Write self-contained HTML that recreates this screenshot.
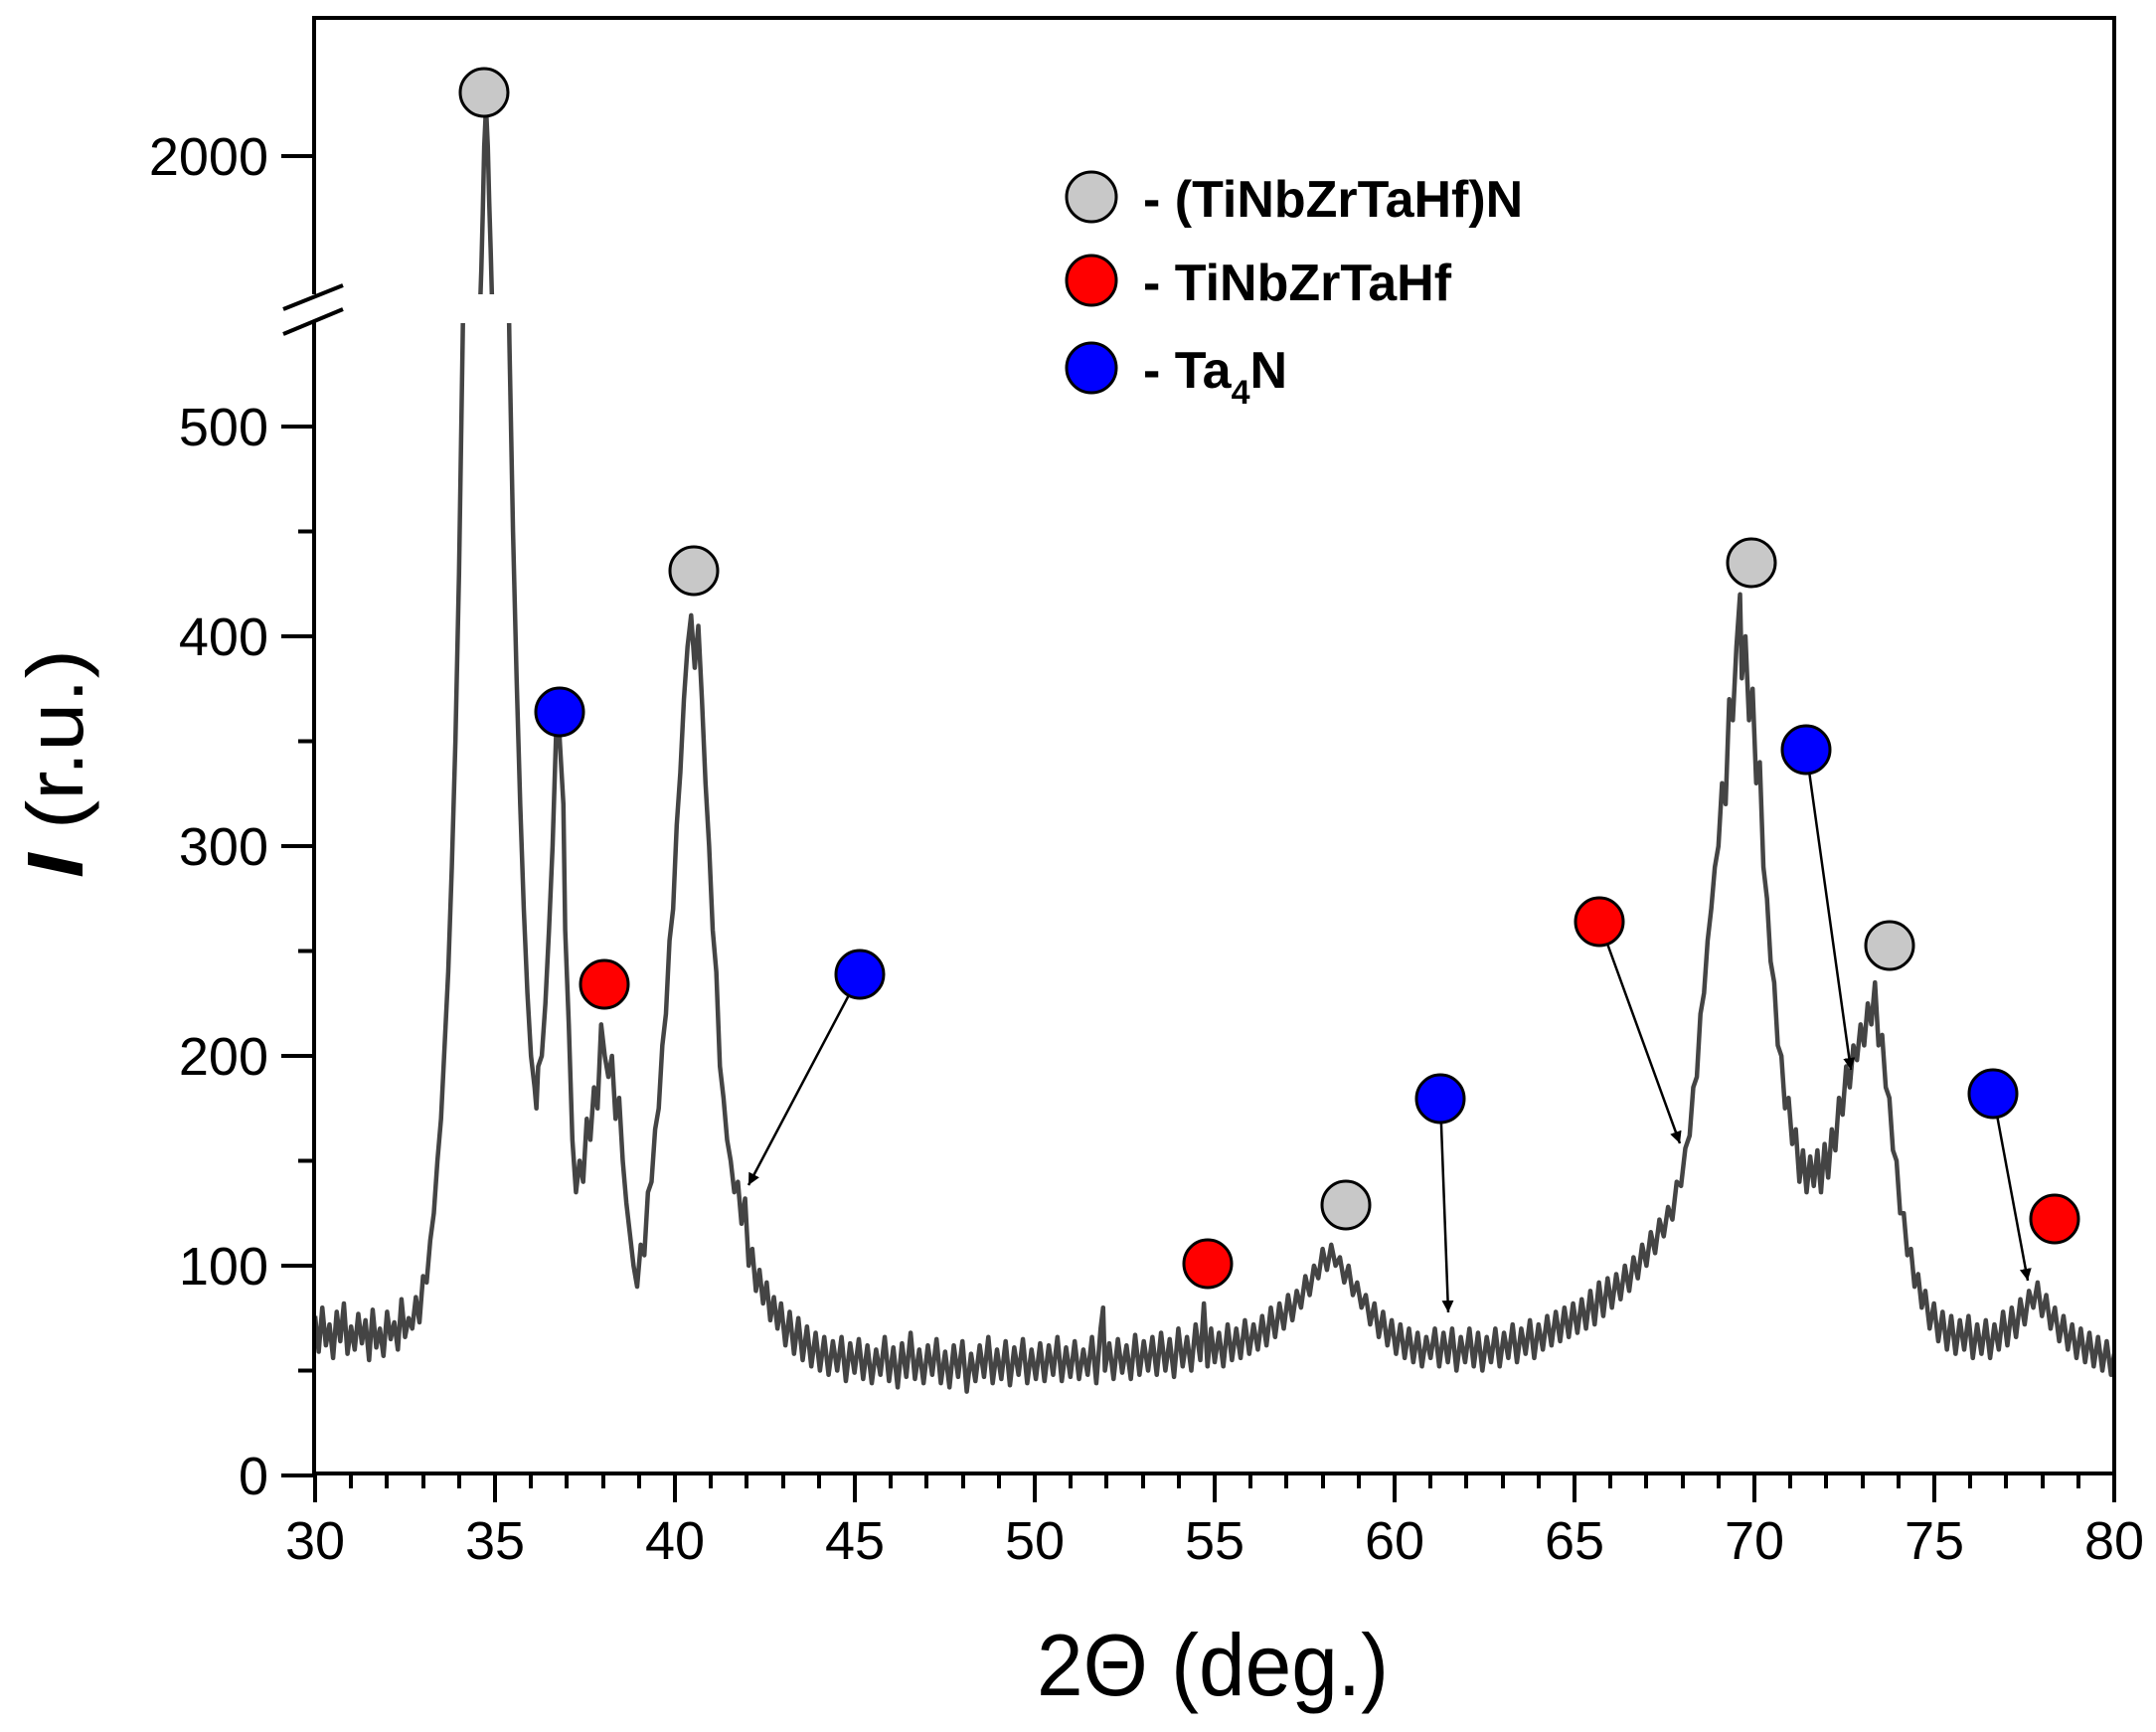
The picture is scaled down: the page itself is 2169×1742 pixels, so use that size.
<!DOCTYPE html>
<html><head><meta charset="utf-8"><style>html,body{margin:0;padding:0;background:#fff}svg{display:block}</style></head>
<body>
<svg width="2169" height="1742" viewBox="0 0 2169 1742" xmlns="http://www.w3.org/2000/svg" font-family="'Liberation Sans', Arial, sans-serif">
<defs>
<clipPath id="lo"><rect x="316" y="325" width="1811" height="1157"/></clipPath>
<clipPath id="hi"><rect x="316" y="20" width="1811" height="276"/></clipPath>
<marker id="ar" markerWidth="12" markerHeight="12" refX="10" refY="5" orient="auto" markerUnits="userSpaceOnUse" viewBox="0 0 10 10"><path d="M0,0 L10,5 L0,10 z" fill="#000"/></marker>
</defs>
<rect width="2169" height="1742" fill="#fff"/>
<g clip-path="url(#lo)">
<polyline transform="matrix(36.2,0,0,-2.11,-769,1484)" vector-effect="non-scaling-stroke" fill="none" stroke="#444" stroke-width="4.5" stroke-linejoin="round" points="
30,76 30.1,59 30.2,80 30.3,62 30.4,72 30.5,56 30.6,78 30.7,64 30.8,82 30.9,58 31,71 31.1,60 31.2,77 31.3,63 31.4,74 31.5,55 31.6,79 31.7,61 31.8,70 31.9,57 32,78 32.1,65 32.2,73 32.3,60 32.4,84 32.5,66 32.6,75 32.7,70 32.8,85 32.9,73 33,95 33.1,92 33.2,112 33.3,125 33.4,150 33.5,170 33.6,205 33.7,240 33.8,290 33.9,350 34,430 34.1,540 34.2,660 34.4,700 35.1,700 35.3,650 35.4,540 35.5,450 35.6,380 35.7,320 35.8,270 35.9,230 36,200 36.1,185 36.15,175 36.2,195 36.3,200 36.4,225 36.5,260 36.6,300 36.7,355 36.75,370 36.8,350 36.9,320 36.95,260 37.05,215 37.15,160 37.25,135 37.35,150 37.45,140 37.55,170 37.65,160 37.75,185 37.85,175 37.95,215 38.05,200 38.15,190 38.25,200 38.35,170 38.45,180 38.55,150 38.65,130 38.75,115 38.85,100 38.95,90 39.05,110 39.15,105 39.25,135 39.35,140 39.45,165 39.55,175 39.65,205 39.75,220 39.85,255 39.95,270 40.05,310 40.15,335 40.25,370 40.35,395 40.45,410 40.55,385 40.65,405 40.75,370 40.85,330 40.95,300 41.05,260 41.15,240 41.25,195 41.35,180 41.45,160 41.55,150 41.65,135 41.75,140 41.85,120 41.95,132 42.05,100 42.15,108 42.25,88 42.35,98 42.45,82 42.55,92 42.65,74 42.75,85 42.85,70 42.95,82 43.07,62 43.19,78 43.31,58 43.43,75 43.55,55 43.67,71 43.79,52 43.91,68 44.03,50 44.15,66 44.27,48 44.39,64 44.51,50 44.63,66 44.75,45 44.87,63 44.99,49 45.11,65 45.23,46 45.35,62 45.47,44 45.59,60 45.71,48 45.83,66 45.95,45 46.07,61 46.19,42 46.31,63 46.43,47 46.55,68 46.67,46 46.79,60 46.91,44 47.03,62 47.15,48 47.27,65 47.39,44 47.51,59 47.63,42 47.75,62 47.87,47 47.99,64 48.11,40 48.23,58 48.35,45 48.47,62 48.59,47 48.71,66 48.83,44 48.95,60 49.07,46 49.19,64 49.31,43 49.43,61 49.55,48 49.67,65 49.79,44 49.91,60 50.03,46 50.15,63 50.27,45 50.39,62 50.51,48 50.63,66 50.75,45 50.87,61 50.99,47 51.11,64 51.23,46 51.35,60 51.47,48 51.59,66 51.71,44 51.83,70 51.9,80 51.95,50 52.07,63 52.19,46 52.31,65 52.43,49 52.55,62 52.67,46 52.79,67 52.91,48 53.03,64 53.15,50 53.27,66 53.39,48 53.51,68 53.63,50 53.75,65 53.87,47 53.99,70 54.11,52 54.23,66 54.35,50 54.47,72 54.6,55 54.7,82 54.8,52 54.9,70 55,54 55.12,68 55.24,52 55.36,72 55.48,55 55.6,70 55.72,56 55.84,74 55.96,58 56.08,72 56.2,60 56.32,76 56.44,62 56.56,80 56.68,66 56.8,82 56.92,70 57.04,86 57.16,74 57.28,88 57.4,80 57.52,95 57.64,86 57.76,100 57.88,94 58,108 58.12,98 58.24,110 58.36,100 58.48,104 58.6,92 58.72,100 58.84,86 58.96,92 59.08,80 59.2,86 59.32,72 59.44,82 59.56,66 59.68,78 59.8,62 59.92,74 60.04,58 60.16,72 60.28,56 60.4,70 60.52,54 60.64,68 60.76,52 60.88,66 61,56 61.12,70 61.24,52 61.36,68 61.48,54 61.6,70 61.72,50 61.84,66 61.96,54 62.08,70 62.2,52 62.32,68 62.44,50 62.56,66 62.68,54 62.8,70 62.92,52 63.04,68 63.16,56 63.28,72 63.4,54 63.52,70 63.64,58 63.76,74 63.88,56 64,72 64.12,60 64.24,76 64.36,62 64.48,78 64.6,64 64.72,80 64.84,66 64.96,82 65.08,68 65.2,84 65.32,70 65.44,88 65.56,72 65.68,92 65.8,76 65.92,94 66.04,80 66.16,96 66.28,84 66.4,100 66.52,88 66.64,104 66.76,94 66.88,110 67,100 67.12,116 67.24,106 67.36,122 67.48,114 67.6,128 67.72,122 67.84,140 67.96,138 68.08,156 68.2,162 68.3,185 68.4,190 68.5,220 68.6,230 68.7,255 68.8,270 68.9,290 69,300 69.1,330 69.2,320 69.3,370 69.4,360 69.5,395 69.6,420 69.65,380 69.75,400 69.85,360 69.95,375 70.05,330 70.15,340 70.25,290 70.35,275 70.45,245 70.55,235 70.65,205 70.75,200 70.85,175 70.95,180 71.05,158 71.15,165 71.25,140 71.35,155 71.45,135 71.55,152 71.65,138 71.75,155 71.85,135 71.95,158 72.05,142 72.15,165 72.25,155 72.35,180 72.45,172 72.55,195 72.65,185 72.75,205 72.85,198 72.95,215 73.05,205 73.15,225 73.25,215 73.35,235 73.45,205 73.55,210 73.65,185 73.75,180 73.85,155 73.95,150 74.05,125 74.15,125 74.25,105 74.35,108 74.45,90 74.55,96 74.65,80 74.75,88 74.87,70 74.99,82 75.11,64 75.23,78 75.35,60 75.47,76 75.59,58 75.71,74 75.83,60 75.95,76 76.07,56 76.19,72 76.31,58 76.43,74 76.55,56 76.67,72 76.79,60 76.91,78 77.03,62 77.15,80 77.27,66 77.39,84 77.51,72 77.63,88 77.75,80 77.87,92 77.99,76 78.11,86 78.23,70 78.35,80 78.47,64 78.59,76 78.71,60 78.83,72 78.95,56 79.07,70 79.19,54 79.31,68 79.43,52 79.55,66 79.67,50 79.79,64 79.91,48 80,58"/>
</g>
<g clip-path="url(#hi)">
<polyline transform="matrix(36.2,0,0,-0.19,-769,537)" vector-effect="non-scaling-stroke" fill="none" stroke="#444" stroke-width="4.5" points="34.5,700 34.55,1000 34.62,1400 34.66,1700 34.7,2050 34.75,2260 34.8,2050 34.84,1750 34.88,1500 34.95,1000 35,700"/>
</g>
<!-- frame -->
<path d="M316,18 H2127 V1482 H316 Z" stroke="#000" stroke-width="4" fill="none"/>
<rect x="300" y="296" width="40" height="28" fill="#fff"/>
<g stroke="#000" stroke-width="4">
<line x1="285" y1="311" x2="345" y2="287"/>
<line x1="285" y1="336" x2="345" y2="311"/>
</g>
<!-- ticks -->
<path stroke="#000" stroke-width="4" fill="none" d="
M317,1482V1511 M498,1482V1511 M679,1482V1511 M860,1482V1511 M1041,1482V1511 M1222,1482V1511 M1403,1482V1511 M1584,1482V1511 M1765,1482V1511 M1946,1482V1511 M2127,1482V1511
M353,1482V1497 M389,1482V1497 M426,1482V1497 M462,1482V1497 M534,1482V1497 M570,1482V1497 M607,1482V1497 M643,1482V1497 M715,1482V1497 M751,1482V1497 M788,1482V1497 M824,1482V1497 M896,1482V1497 M932,1482V1497 M969,1482V1497 M1005,1482V1497 M1077,1482V1497 M1113,1482V1497 M1150,1482V1497 M1186,1482V1497 M1258,1482V1497 M1294,1482V1497 M1331,1482V1497 M1367,1482V1497 M1439,1482V1497 M1475,1482V1497 M1512,1482V1497 M1548,1482V1497 M1620,1482V1497 M1656,1482V1497 M1693,1482V1497 M1729,1482V1497 M1801,1482V1497 M1837,1482V1497 M1874,1482V1497 M1910,1482V1497 M1982,1482V1497 M2018,1482V1497 M2055,1482V1497 M2091,1482V1497
M283,1484H316 M283,1273H316 M283,1062H316 M283,851H316 M283,640H316 M283,429H316 M283,157H316
M300,1378.5H316 M300,1167.5H316 M300,956.5H316 M300,745.5H316 M300,534.5H316"/>
<g font-size="54" fill="#000" text-anchor="middle">
<text x="317" y="1568">30</text><text x="498" y="1568">35</text><text x="679" y="1568">40</text><text x="860" y="1568">45</text><text x="1041" y="1568">50</text><text x="1222" y="1568">55</text><text x="1403" y="1568">60</text><text x="1584" y="1568">65</text><text x="1765" y="1568">70</text><text x="1946" y="1568">75</text><text x="2127" y="1568">80</text>
</g>
<g font-size="54" fill="#000" text-anchor="end">
<text x="270" y="1503">0</text><text x="270" y="1292">100</text><text x="270" y="1081">200</text><text x="270" y="870">300</text><text x="270" y="659">400</text><text x="270" y="448">500</text><text x="270" y="176">2000</text>
</g>
<text x="1043" y="1705" font-size="88" textLength="354" lengthAdjust="spacingAndGlyphs">2Θ (deg.)</text>
<text transform="translate(83,883) rotate(-90)" font-size="80" textLength="230" lengthAdjust="spacingAndGlyphs"><tspan font-weight="bold" font-style="italic">I</tspan> (r.u.)</text>
<!-- legend -->
<g stroke="#000" stroke-width="3">
<circle cx="1098" cy="198" r="25" fill="#c8c8c8"/>
<circle cx="1098" cy="282" r="25" fill="#f00"/>
<circle cx="1098" cy="370" r="25" fill="#00f"/>
</g>
<g font-size="52" font-weight="bold">
<text x="1150" y="218">- (TiNbZrTaHf)N</text>
<text x="1150" y="302">- TiNbZrTaHf</text>
<text x="1150" y="390">- Ta<tspan font-size="34" dy="16">4</tspan><tspan dy="-16">N</tspan></text>
</g>
<!-- arrows -->
<g stroke="#000" stroke-width="2.5" marker-end="url(#ar)">
<line x1="865" y1="980" x2="753" y2="1192"/>
<line x1="1449" y1="1105" x2="1457" y2="1320"/>
<line x1="1609" y1="927" x2="1690" y2="1150"/>
<line x1="1817" y1="754" x2="1862" y2="1076"/>
<line x1="2005" y1="1100" x2="2040" y2="1288"/>
</g>
<g stroke="#000" stroke-width="3">
<circle cx="487" cy="93" r="24" fill="#c8c8c8"/>
<circle cx="563" cy="716" r="24" fill="#00f"/>
<circle cx="608" cy="990" r="24" fill="#f00"/>
<circle cx="698" cy="574" r="24" fill="#c8c8c8"/>
<circle cx="865" cy="980" r="24" fill="#00f"/>
<circle cx="1215" cy="1271" r="24" fill="#f00"/>
<circle cx="1354" cy="1212" r="24" fill="#c8c8c8"/>
<circle cx="1449" cy="1105" r="24" fill="#00f"/>
<circle cx="1609" cy="927" r="24" fill="#f00"/>
<circle cx="1762" cy="566" r="24" fill="#c8c8c8"/>
<circle cx="1817" cy="754" r="24" fill="#00f"/>
<circle cx="1901" cy="951" r="24" fill="#c8c8c8"/>
<circle cx="2005" cy="1100" r="24" fill="#00f"/>
<circle cx="2067" cy="1226" r="24" fill="#f00"/>
</g>
</svg>
</body></html>
